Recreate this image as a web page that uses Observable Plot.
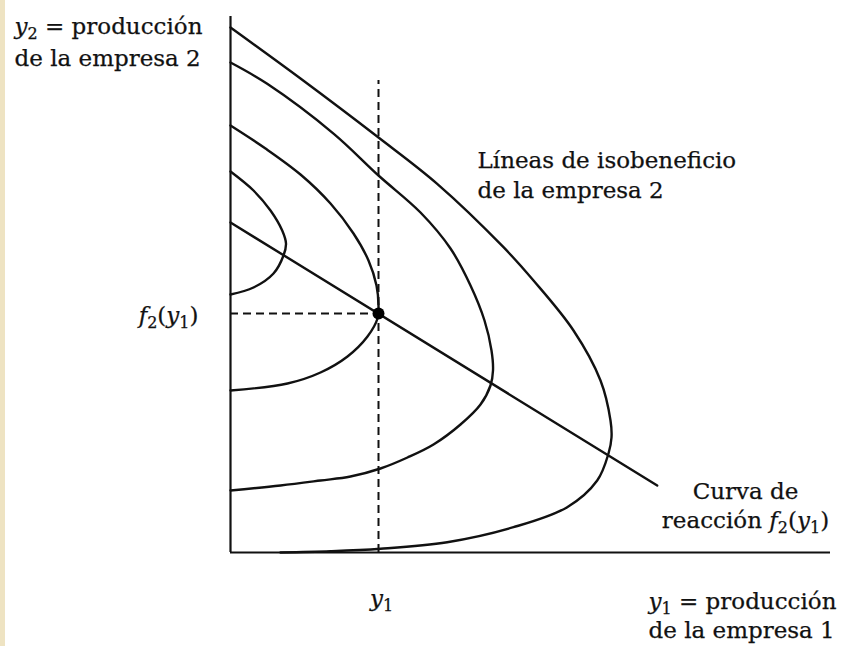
<!DOCTYPE html>
<html><head><meta charset="utf-8">
<script src="https://cdn.jsdelivr.net/npm/d3@7"></script>
<script src="https://cdn.jsdelivr.net/npm/@observablehq/plot@0.6"></script>
<style>
html,body{margin:0;padding:0;background:linear-gradient(to right,#eee3c2 0,#eee3c2 5px,#fff 5px);}
#chart{width:844px;height:646px;}
</style></head><body><div id="chart"></div>
<script>
// Isoprofit curves of firm 2, as [y1, y2] pairs (arbitrary output units)
const isoprofit1 = [[0,381],[23,362],[40,342],[51.7,322],[55.5,309],[53,297],[43,279],[23,265],[0,258]];
const isoprofit2 = [[0,427],[35,404],[70,378],[100,349],[123,319],[138,292],[146,267],[148,247],[147,234],[137,216],[117,196],[90,180],[57,169],[0,162]];
const isoprofit3 = [[0,490],[36.7,468.7],[103.3,418.7],[148,377],[190,340],[220,304],[240,267],[254,232],[261,202],[262.5,182],[260,167],[250,148],[230,128],[203,108],[177,95],[150,84],[120,76],[90,72],[50,67],[0,62]];
const isoprofit4 = [[0,525],[70,474],[148,415],[206.7,368.7],[273,305.3],[303,272],[343,222],[370,172],[380,132],[381,115],[378,99],[366.7,72],[336.7,45.3],[283,25.3],[216.7,10.3],[150,3.7],[100,1.2],[50,0]];
const isoprofitCurves = [isoprofit1, isoprofit2, isoprofit3, isoprofit4];
// Reaction curve f2(y1)
const reactionCurve = [[0,330],[426.7,67]];
// Chosen y1 and best response f2(y1)
const equilibrium = [148, 239];
// Axis extents
const xAxisEnd = 600, yAxisEnd = 536, dashTop = 472;
// Texts
const yAxisLabel = ["y₂ = producción", "de la empresa 2"];
const xAxisLabel = ["y₁ = producción", "de la empresa 1"];
const isoLabel = ["Líneas de isobeneficio", "de la empresa 2"];
const reactionLabel = ["Curva de", "reacción f₂(y₁)"];
const xTickLabel = "y₁";
const yTickLabel = "f₂(y₁)";

const font = "DejaVu Serif";
const fs = 23;
const txt = (arr, x, y0, step, anchor) => Plot.text(arr, {
  x, y: (d, i) => y0 - i * step, text: d => d, textAnchor: anchor, lineAnchor: "bottom",
  fontFamily: font, fontSize: fs, fill: "#111", stroke: "#111", strokeWidth: 0.25
});

const plot = Plot.plot({
  width: 844, height: 646,
  marginTop: 0, marginRight: 0, marginBottom: 0, marginLeft: 0,
  style: {background: "transparent", overflow: "visible"},
  x: {domain: [0, 600], range: [230, 830], axis: null},
  y: {domain: [0, 540], range: [552, 12], axis: null},
  marks: [
    Plot.ruleX([0], {y1: 0, y2: yAxisEnd, stroke: "#111", strokeWidth: 2.2}),
    Plot.ruleY([0], {x1: 0, x2: xAxisEnd, stroke: "#111", strokeWidth: 2.2}),
    Plot.ruleX([equilibrium[0]], {y1: 0, y2: dashTop, stroke: "#111", strokeWidth: 2, strokeDasharray: "8,5"}),
    Plot.ruleY([equilibrium[1]], {x1: 0, x2: equilibrium[0], stroke: "#111", strokeWidth: 2, strokeDasharray: "8,5"}),
    ...isoprofitCurves.map(c => Plot.line(c, {x: d => d[0], y: d => d[1], curve: "catmull-rom", stroke: "#111", strokeWidth: 2.4})),
    Plot.line(reactionCurve, {x: d => d[0], y: d => d[1], stroke: "#111", strokeWidth: 2.4}),
    Plot.dot([equilibrium], {x: d => d[0], y: d => d[1], r: 6, fill: "#000", stroke: "none"}),
    txt(yAxisLabel, -216, 519, 32, "start"),
    txt(isoLabel, 247, 385, 30, "start"),
    txt(reactionLabel, 515, 54, 29, "middle"),
    txt(xAxisLabel, 418, -56, 29, "start"),
    txt([xTickLabel], 151, -53, 0, "middle"),
    txt([yTickLabel], -32, 230, 0, "end")
  ]
});

// Render math: italic variable letters with lowered subscripts
const SUB = {"₁": "1", "₂": "2"};
d3.select(plot).selectAll("text").each(function () {
  const s = this.textContent;
  if (!/[₁₂]/.test(s)) return;
  const el = d3.select(this);
  el.text(null);
  const re = /([yf])([₁₂])/g;
  let last = 0, m, shifted = false;
  while ((m = re.exec(s))) {
    if (m.index > last) {
      const t = el.append("tspan").text(s.slice(last, m.index));
      if (shifted) { t.attr("dy", -5); shifted = false; }
    }
    const v = el.append("tspan").attr("font-style", "italic").text(m[1]);
    if (shifted) { v.attr("dy", -5); shifted = false; }
    el.append("tspan").attr("font-size", 16).attr("dy", 5).text(SUB[m[2]]);
    shifted = true;
    last = m.index + m[0].length;
  }
  if (last < s.length) {
    const t = el.append("tspan").text(s.slice(last));
    if (shifted) t.attr("dy", -5);
  }
});

document.getElementById("chart").append(plot);
</script></body></html>
